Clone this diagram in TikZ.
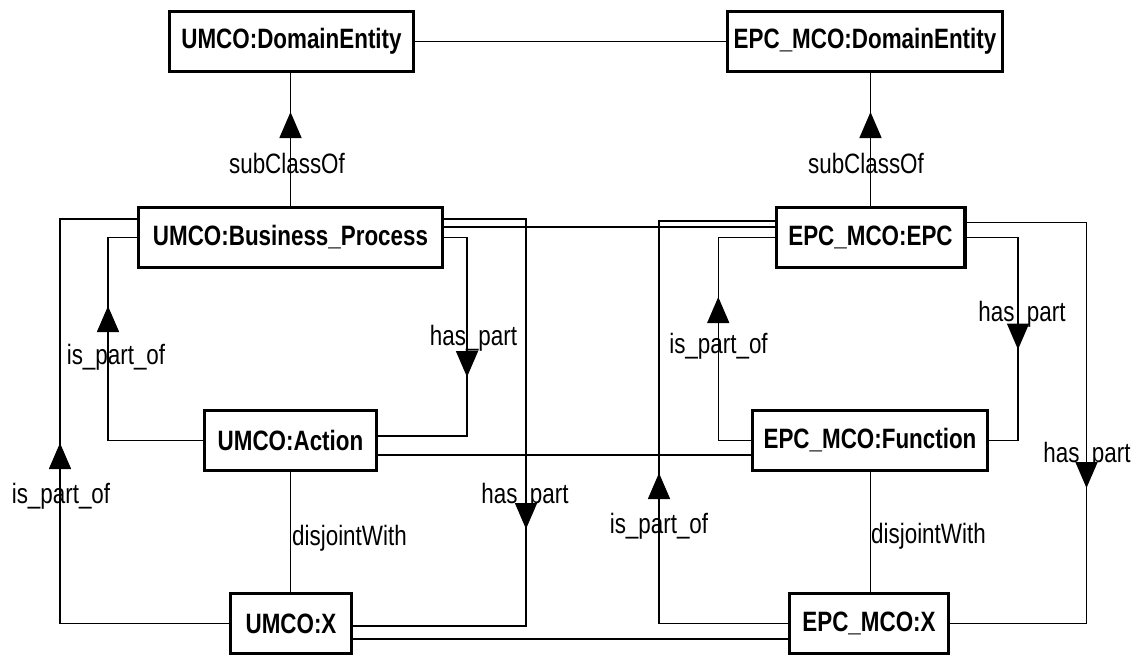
\documentclass[tikz,border=0pt]{standalone}
\usepackage{fontspec}
\setmainfont{Liberation Sans}[FakeStretch=0.8]
\usetikzlibrary{arrows.meta,decorations.markings}

\begin{document}
\begin{tikzpicture}[
    x=1pt, y=-1pt,
    font=\fontsize{28}{32}\selectfont,
    box/.style={rectangle, draw, line width=3.3pt, minimum height=59.7pt, inner sep=0pt, font=\fontsize{28}{32}\selectfont\bfseries},
    rel/.style={line width=1.5pt},
    disj/.style={line width=1pt},
    lbl/.style={inner sep=0pt},
    tipat/.style={postaction={decorate}, decoration={markings, mark=at position #1 with {\arrow{Triangle[width=22pt,length=26pt]}}}}
]
    \useasboundingbox (0,0) rectangle (1148,654);

    % UMCO column
    \node[box, minimum width=243.7pt] (de1) at (291.5,41.5) {UMCO:DomainEntity};
    \node[box, minimum width=303.7pt] (bp) at (290.5,237.5) {UMCO:Business\_Process};
    \node[box, minimum width=171.7pt] (act) at (290.5,440.5) {UMCO:Action};
    \node[box, minimum width=120.7pt] (x1) at (291,623.5) {UMCO:X};

    % EPC_MCO column
    \node[box, minimum width=274.7pt] (de2) at (865,41.5) {EPC\_MCO:DomainEntity};
    \node[box, minimum width=188.7pt] (epc) at (870.5,237.5) {EPC\_MCO:EPC};
    \node[box, minimum width=235.2pt] (fun) at (870,440.5) {EPC\_MCO:Function};
    \node[box, minimum width=158.7pt] (x2) at (869,623.5) {EPC\_MCO:X};

    % links across
    \draw[rel] (de1) -- (de2);
    \draw[rel] ([yshift=-21pt]bp.north east) -- ([yshift=-21pt]epc.north west);
    \draw[rel] ([yshift=-14.5pt]act.east) -- ([yshift=-14.5pt]fun.west);
    \draw[rel] ([yshift=-15.5pt]x1.east) -- ([yshift=-15.5pt]x2.west);

    % UMCO relations
    \draw[rel, tipat=94pt] (bp.north) -- (bp.north |- de1.south);
    \draw[rel, tipat=229.5pt] (act.west) -- ++(-95,0) |- (bp.west);
    \draw[rel, tipat=349.5pt] (x1.west) -- ++(-169,0) |- ([yshift=-13pt]bp.north west);
    \draw[rel, tipat=162.5pt] (bp.east) -- ++(23,0) |- ([yshift=4.5pt]act.east);
    \draw[rel, tipat=392pt] ([yshift=-13pt]bp.north east) -- ++(82,0) |- ([yshift=-2.5pt]x1.east);
    \draw[disj] (act.south) -- (act.south |- x1.north);

    % EPC_MCO relations
    \draw[rel, tipat=94pt] (epc.north) -- (epc.north |- de2.south);
    \draw[rel, tipat=176pt] (fun.west) -- ++(-32.5,0) |- (epc.west);
    \draw[rel, tipat=163.5pt] (epc.east) -- ++(51.5,0) |- (fun.east);
    \draw[rel, tipat=279.5pt] (x2.west) -- ++(-129,0) |- ([yshift=-15pt]epc.north west);
    \draw[rel, tipat=385.3pt] ([yshift=-16.7pt]epc.north east) -- ++(120,0) |- (x2.east);
    \draw[disj] (fun.south) -- (fun.south |- x2.north);

    % labels
    \node[lbl] (sc1) at (287,163) {subClassOf};
    \node[lbl] (sc2) at (866,163) {subClassOf};
    \node[lbl] (ip1) at (116,357) {is\_part\_of};
    \node[lbl] (hp1) at (473.5,338) {has\_part};
    \node[lbl] (ip2) at (61,496) {is\_part\_of};
    \node[lbl] (hp2) at (525,496.5) {has\_part};
    \node[lbl, anchor=west] (dj1) at (292,538) {disjointWith};
    \node[lbl] (ip3) at (718.5,346.7) {is\_part\_of};
    \node[lbl] (hp3) at (1022,314) {has\_part};
    \node[lbl] (ip4) at (659,526) {is\_part\_of};
    \node[lbl] (hp4) at (1087,455) {has\_part};
    \node[lbl, anchor=west] (dj2) at (871,536.7) {disjointWith};
\end{tikzpicture}
\end{document}
